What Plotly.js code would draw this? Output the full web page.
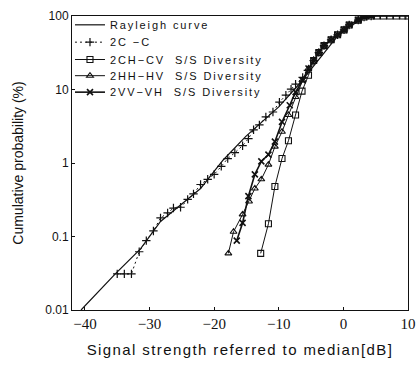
<!DOCTYPE html>
<html><head><meta charset="utf-8">
<script src="https://cdn.plot.ly/plotly-3.0.1.min.js"></script>
<style>
html,body{margin:0;padding:0;background:#fff}
#chart{width:418px;height:373px}
#chart .xtitle{letter-spacing:1.4px}
#chart .legendtext, #chart .legend2text, #chart .legend3text, #chart .legend4text, #chart .legend5text{letter-spacing:1.9px}
#chart g.scrollbox{clip-path:none !important}
</style>
</head><body><div id="chart"></div>
<script>
// Series names
const seriesNames = ["Rayleigh curve", "2C \u2212C", "2CH\u2212CV  S/S Diversity", "2HH\u2212HV  S/S Diversity", "2VV\u2212VH  S/S Diversity"];

// Rayleigh curve (signal dB, cumulative %)
const rayX = [-40.6, -35.3, -31.4, -28.3, -22.1, -18.6, -15.1, -10.0, -6.9, -4.6, -3.0, -1.0, 1.0, 3.0, 4.5, 10];
const rayP = [0.01, 0.031, 0.068, 0.16, 0.45, 1.1, 2.3, 5.8, 11.7, 21, 32, 52, 72, 92, 99.5, 100];

// 2C-C
const ccX = [-35.0, -33.9, -32.8, -31.6, -30.5, -29.4, -28.3, -27.2, -26.3, -25.2, -24.1, -23.2, -22.1, -21.0, -20.0, -18.9, -17.9, -16.8, -15.6, -14.7, -13.9, -13.0, -12.0, -10.9, -9.9, -8.9, -8.1, -7.4, -6.3, -5.5, -4.6, -3.8, -3.0, -1.9, -0.9, 0.1, 0.9, 2.3, 3.2, 4.3];
const ccP = [0.031, 0.031, 0.031, 0.062, 0.088, 0.119, 0.179, 0.209, 0.244, 0.25, 0.32, 0.38, 0.51, 0.60, 0.70, 0.90, 1.15, 1.38, 1.72, 2.14, 2.83, 3.30, 4.23, 4.94, 6.73, 8.37, 10.1, 11.8, 14.6, 18.2, 24.8, 31.8, 39.5, 47.5, 55.5, 64.7, 75.6, 88, 97, 100];

// 2CH-CV S/S Diversity
const chX = [-12.8, -11.6, -10.6, -9.5, -8.5, -7.4, -6.4, -5.4, -4.6, -3.8, -3.0, -1.9, -0.9, 0.1, 0.9, 2.3, 3.2, 4.3, 5.2, 6.2, 7.2, 8.2, 9.2, 10.0];
const chP = [0.059, 0.149, 0.48, 1.15, 2.01, 4.5, 9.5, 15.6, 24.8, 31.8, 39.5, 47.5, 55.5, 64.7, 75.6, 88, 97, 100, 100, 100, 100, 100, 100, 100];

// 2HH-HV S/S Diversity
const hhX = [-17.8, -17.0, -15.6, -14.6, -13.7, -12.7, -11.6, -10.6, -9.5, -8.5, -7.4, -6.3, -5.4, -4.6, -3.8, -3.0, -1.9, -0.9, 0.1, 0.9, 2.3, 3.2, 4.3];
const hhP = [0.059, 0.116, 0.20, 0.30, 0.45, 0.60, 0.95, 1.67, 2.66, 4.5, 7.9, 13.3, 19.3, 24.8, 31.8, 39.5, 47.5, 55.5, 64.7, 75.6, 88, 97, 100];

// 2VV-VH S/S Diversity
const vvX = [-16.5, -15.6, -14.7, -13.7, -12.7, -11.6, -10.6, -9.5, -8.3, -7.4, -6.3, -5.4, -4.6, -3.8, -3.0, -1.9, -0.9, 0.1, 0.9, 2.3, 3.2, 4.3];
const vvP = [0.088, 0.153, 0.354, 0.70, 1.05, 1.3, 1.95, 3.62, 6.1, 9.2, 13.3, 19.3, 24.8, 31.8, 39.5, 47.5, 55.5, 64.7, 75.6, 88, 97, 100];

// Tick labels
const xTickVals = [-40, -30, -20, -10, 0, 10];
const xTickText = ["\u221240", "\u221230", "\u221220", "\u221210", "0", "10"];
const yTickVals = [0.01, 0.1, 1, 10, 100];
const yTickText = ["0.01", "0.1", "1", "10", "100"];

const blk = "#111";
const traces = [
  {x: rayX, y: rayP, name: seriesNames[0], legend: "legend", mode: "lines", line: {color: blk, width: 1.2}},
  {x: ccX, y: ccP, name: seriesNames[1], legend: "legend2", mode: "lines+markers", line: {color: blk, width: 1, dash: "2px,3px"},
   marker: {symbol: "cross-thin-open", size: 6, color: blk, line: {color: blk, width: 1.2}}},
  {x: chX, y: chP, name: seriesNames[2], legend: "legend3", mode: "lines+markers", line: {color: blk, width: 1},
   marker: {symbol: "square-open", size: 6, color: blk, line: {color: blk, width: 1.1}}},
  {x: hhX, y: hhP, name: seriesNames[3], legend: "legend4", mode: "lines+markers", line: {color: blk, width: 1},
   marker: {symbol: "triangle-up-open", size: 6, color: blk, line: {color: blk, width: 1.1}}},
  {x: vvX, y: vvP, name: seriesNames[4], legend: "legend5", mode: "lines+markers", line: {color: blk, width: 1.6},
   marker: {symbol: "x-thin-open", size: 6, color: blk, line: {color: blk, width: 1.6}}}
];

function leg(yc) {
  return {x: -0.006, y: yc, xanchor: "left", yanchor: "middle", bgcolor: "rgba(0,0,0,0)", borderwidth: 0,
    font: {family: "Liberation Sans", size: 11, color: blk}, itemwidth: 30};
}

const layout = {
  width: 418, height: 373,
  margin: {l: 72, r: 10, t: 13, b: 63},
  paper_bgcolor: "#fff", plot_bgcolor: "#fff",
  showlegend: true,
  legend: leg(0.970), legend2: leg(0.911), legend3: leg(0.852), legend4: leg(0.797), legend5: leg(0.741),
  xaxis: {range: [-42, 10], tickvals: xTickVals, ticktext: xTickText, showgrid: false, zeroline: false,
    showline: true, mirror: true, linecolor: blk, linewidth: 1, ticks: "inside", ticklen: 3, tickcolor: blk,
    tickfont: {family: "Liberation Serif", size: 15, color: blk},
    title: {text: "Signal strength referred to median[dB]", font: {family: "Liberation Sans", size: 15, color: blk}, standoff: 13}},
  yaxis: {type: "log", range: [-2, 2], tickvals: yTickVals, ticktext: yTickText, showgrid: false, zeroline: false,
    showline: true, mirror: true, linecolor: blk, linewidth: 1, ticks: "inside", ticklen: 3, tickcolor: blk,
    tickfont: {family: "Liberation Sans", size: 12, color: blk},
    title: {text: "Cumulative probability (%)", font: {family: "Liberation Sans", size: 14, color: blk}, standoff: 18}}
};

Plotly.newPlot("chart", traces, layout, {staticPlot: true, displayModeBar: false});
</script></body></html>
